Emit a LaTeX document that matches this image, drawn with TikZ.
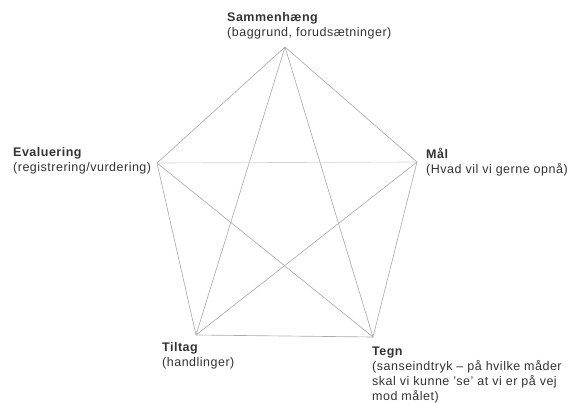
\documentclass[tikz,border=0pt]{standalone}
\usepackage{fontspec}
\setmainfont{Liberation Sans}[LetterSpace=4]
\begin{document}
\begin{tikzpicture}[
            x=1pt, y=-1pt,
            edge/.style={draw=gray!65, line width=0.65pt},
            label/.style={anchor=north west, inner sep=0pt, align=left, text=black!80,
                font=\fontsize{12.5}{15}\selectfont}
            ]
            \useasboundingbox (0,0) rectangle (571,403);
            \coordinate (t) at (285,47);
            \coordinate (l) at (157,163);
            \coordinate (r) at (417,162);
            \coordinate (bl) at (196,335);
            \coordinate (br) at (373,337);

            \node[label] (tlab) at (227,12) {\textbf{Sammenhæng}\\(baggrund, forudsætninger)};
            \node[label] (llab) at (13,147) {\textbf{Evaluering}\\(registrering/vurdering)};
            \node[label] (rlab) at (426,148) {\textbf{Mål}\\(Hvad vil vi gerne opnå)};
            \node[label] (bllab) at (162,342) {\textbf{Tiltag}\\(handlinger)};
            \node[label] (brlab) at (372,347) {\textbf{Tegn}\\(sanseindtryk – på hvilke måder\\skal vi kunne 'se' at vi er på vej\\mod målet)};

            \draw[edge] (t)--(r)--(br)--(bl)--(l)--cycle;
            \draw[edge] (t)--(bl);
            \draw[edge] (t)--(br);
            \draw[edge, draw=gray!35] (l)--(r);
            \draw[edge] (l)--(br);
            \draw[edge] (r)--(bl);
            \end{tikzpicture}
\end{document}
